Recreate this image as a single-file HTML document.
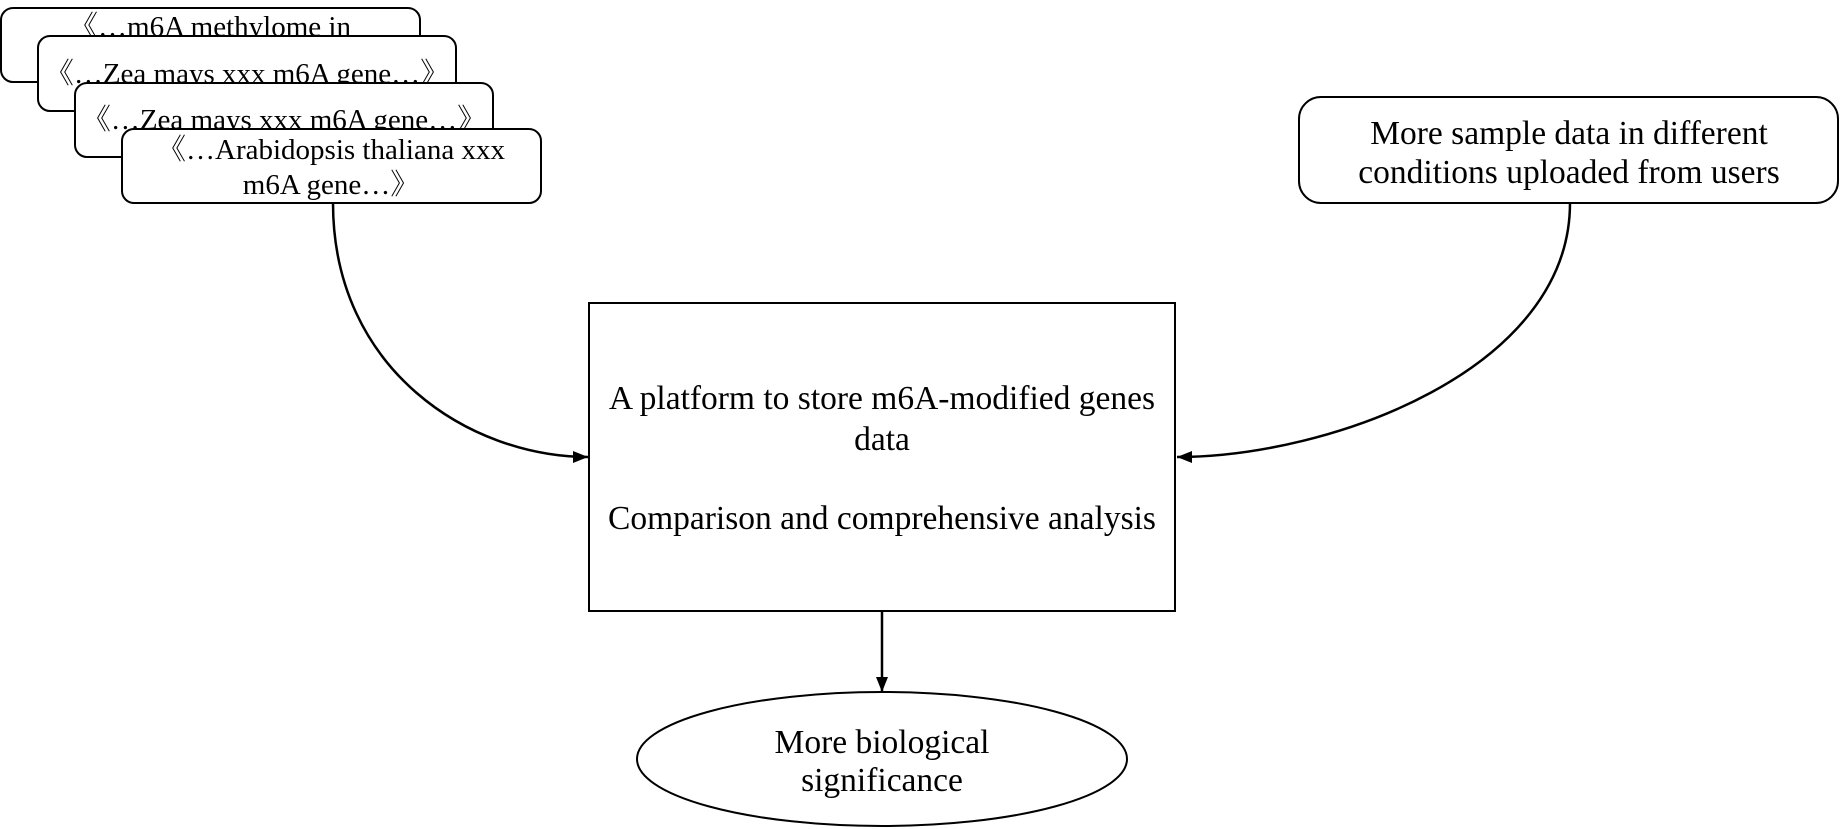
<!DOCTYPE html>
<html><head><meta charset="utf-8"><style>
html,body{margin:0;padding:0;background:#fff;}
svg{display:block;}
text{font-family:"Liberation Serif","Noto Serif CJK SC",serif;fill:#000;}
</style></head><body>
<svg width="1840" height="829" viewBox="0 0 1840 829" xmlns="http://www.w3.org/2000/svg">
<defs>
<marker id="ah" markerWidth="15" markerHeight="12" refX="15" refY="6" orient="auto" markerUnits="userSpaceOnUse">
<path d="M0,0 L15,6 L0,12 z" fill="#000"/>
</marker>
</defs>
<rect x="1" y="8" width="419" height="74" rx="12" stroke="#000" stroke-width="2" fill="#fff"/>
<text x="210" y="36" font-size="29" text-anchor="middle">《…m6A methylome in</text>
<rect x="38" y="36" width="418" height="75" rx="12" stroke="#000" stroke-width="2" fill="#fff"/>
<text x="247" y="83" font-size="29" text-anchor="middle">《…Zea mays xxx m6A gene…》</text>
<rect x="75" y="83" width="418" height="74" rx="12" stroke="#000" stroke-width="2" fill="#fff"/>
<text x="284" y="129" font-size="29" text-anchor="middle">《…Zea mays xxx m6A gene…》</text>
<rect x="122" y="129" width="419" height="74" rx="12" stroke="#000" stroke-width="2" fill="#fff"/>
<text x="331" y="159" font-size="29" text-anchor="middle">《…Arabidopsis thaliana xxx</text>
<text x="331" y="194" font-size="29" text-anchor="middle">m6A gene…》</text>

<rect x="1299" y="97" width="539" height="106" rx="22" stroke="#000" stroke-width="2" fill="#fff"/>
<text x="1569" y="144" font-size="33.5" text-anchor="middle">More sample data in different</text>
<text x="1569" y="183" font-size="33.5" text-anchor="middle">conditions uploaded from users</text>

<rect x="589" y="303" width="586" height="308" stroke="#000" stroke-width="2" fill="#fff"/>
<text x="882" y="409" font-size="33.5" text-anchor="middle">A platform to store m6A-modified genes</text>
<text x="882" y="450" font-size="33.5" text-anchor="middle">data</text>
<text x="882" y="529" font-size="33.5" text-anchor="middle">Comparison and comprehensive analysis</text>

<ellipse cx="882" cy="759" rx="245" ry="67" stroke="#000" stroke-width="2" fill="#fff"/>
<text x="882" y="753" font-size="33.5" text-anchor="middle">More biological</text>
<text x="882" y="791" font-size="33.5" text-anchor="middle">significance</text>

<g stroke="#000" stroke-width="2.5" fill="none">
<path d="M333,203 C333,370 470,457 588,457" marker-end="url(#ah)"/>
<path d="M1570,203 C1570,370 1330,457 1177,457" marker-end="url(#ah)"/>
<path d="M882,611 L882,692" marker-end="url(#ah)"/>
</g>
</svg>
</body></html>
